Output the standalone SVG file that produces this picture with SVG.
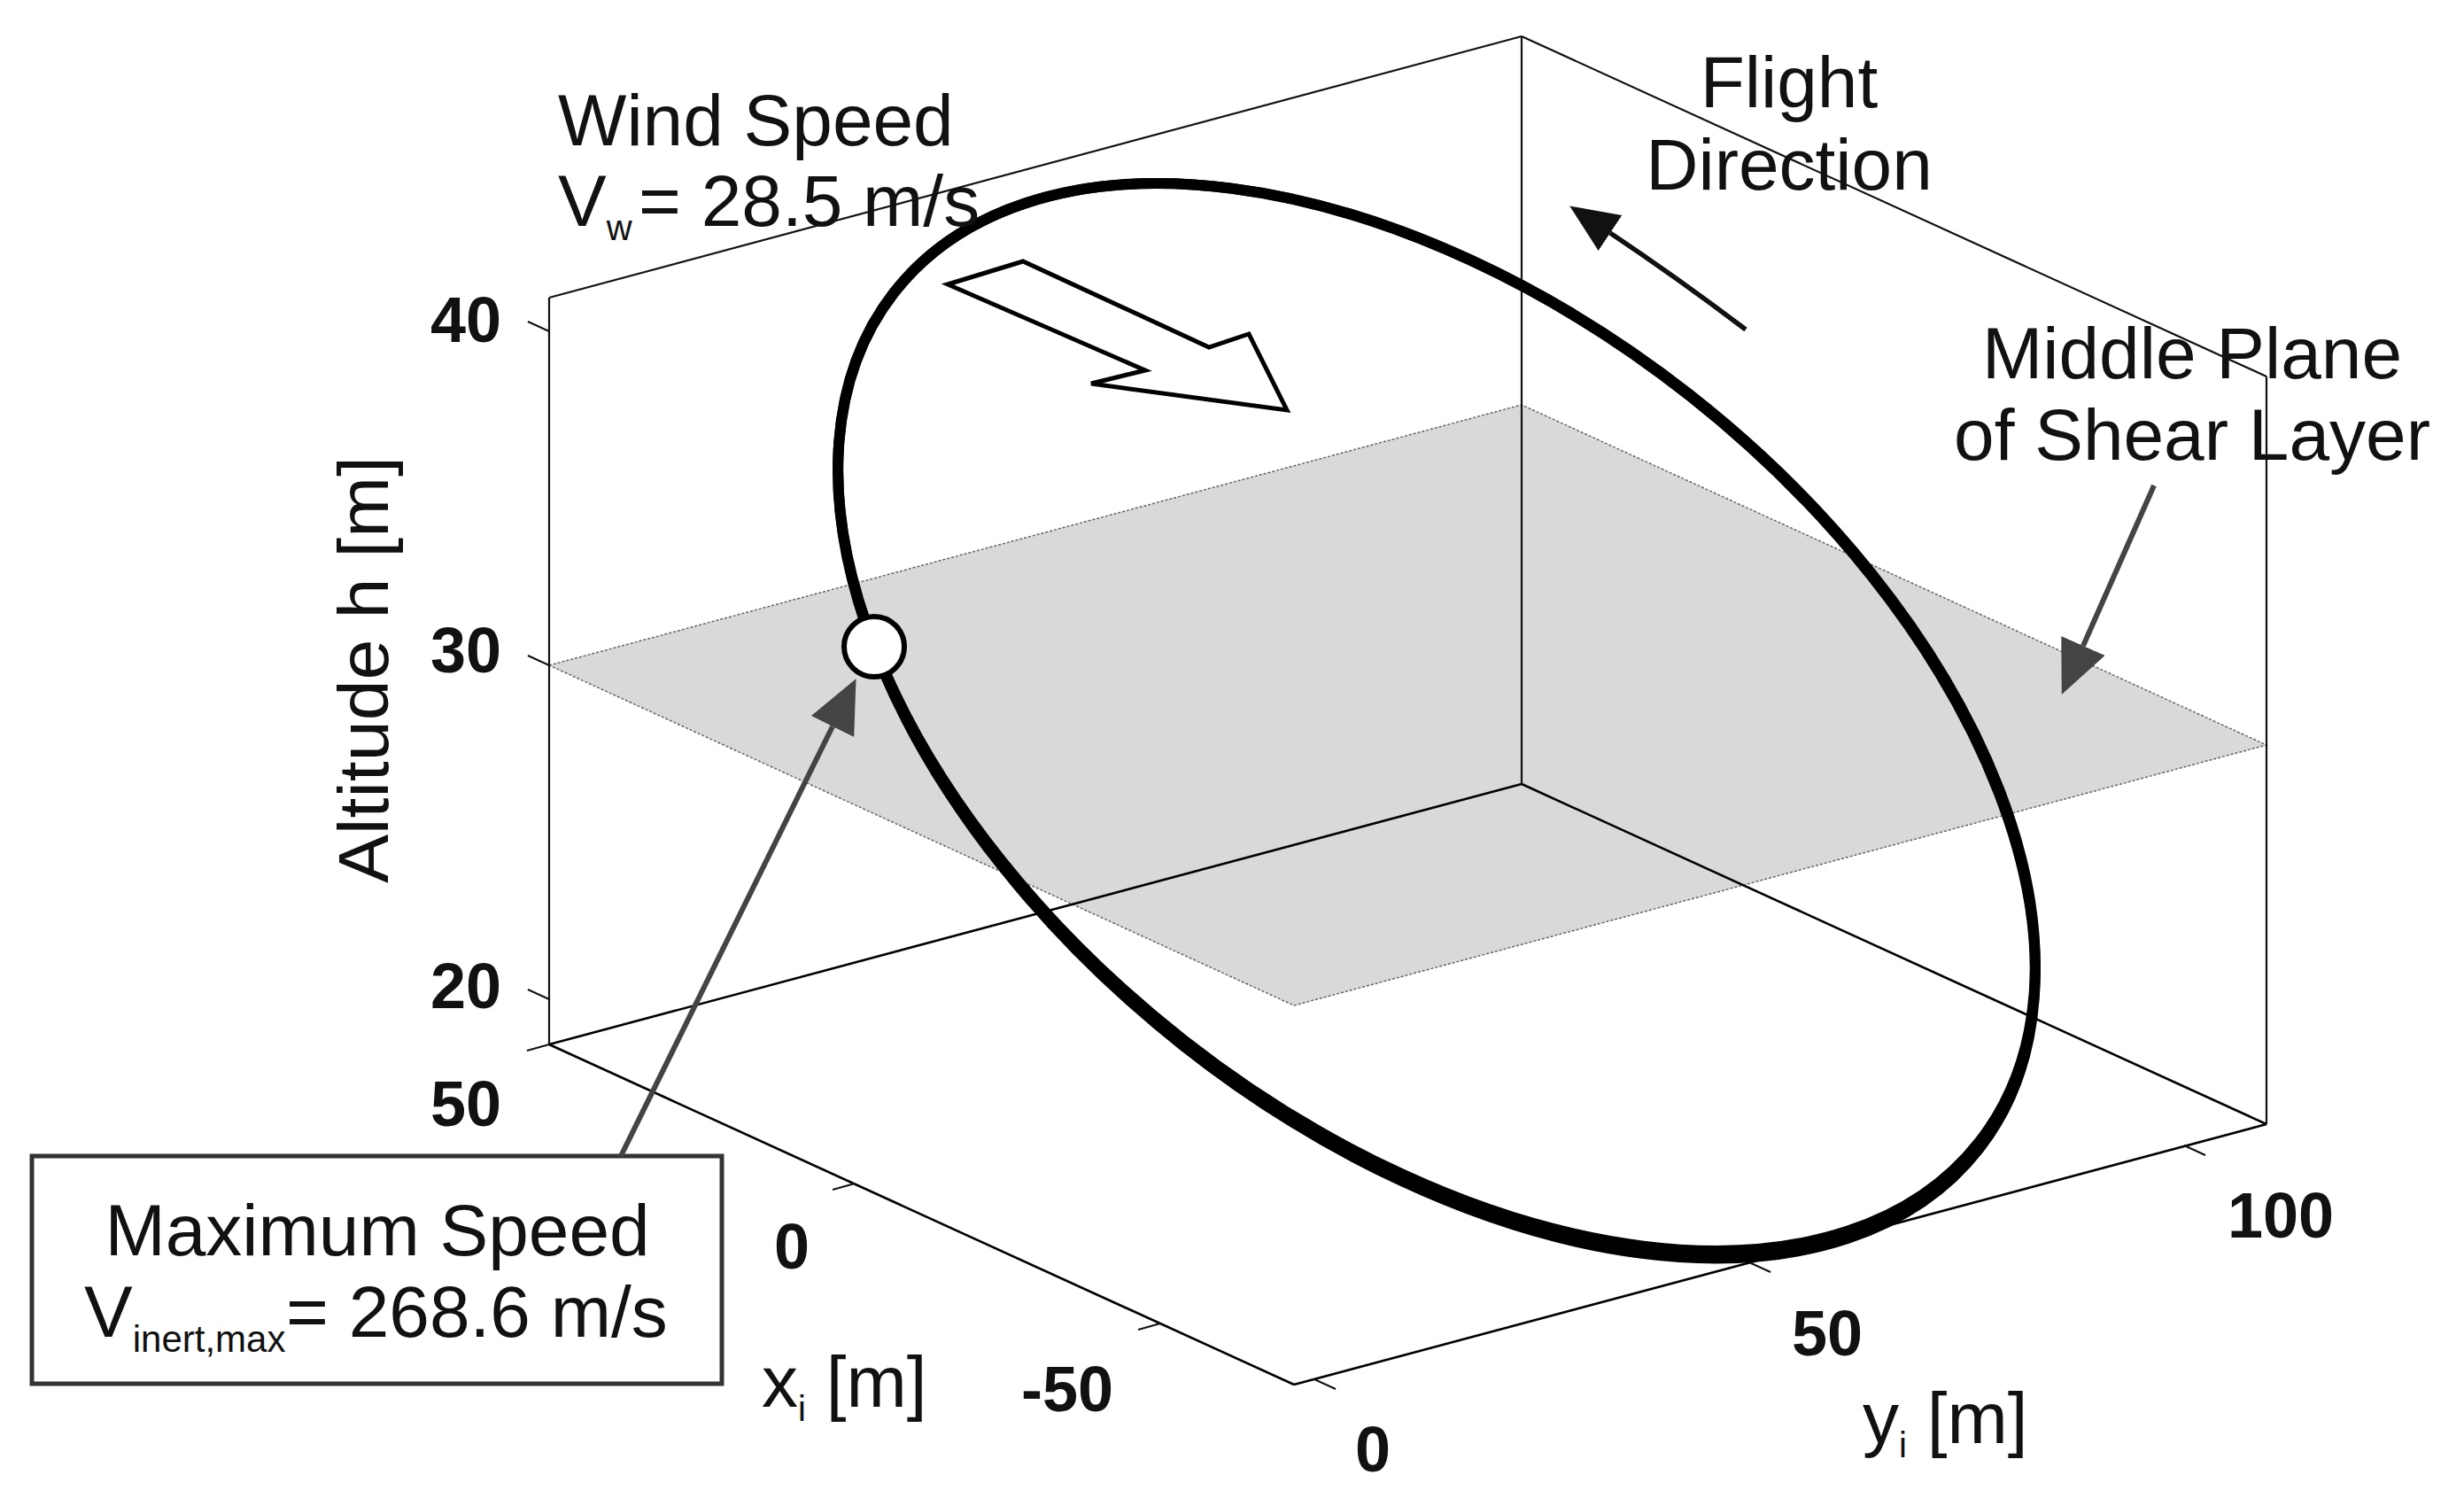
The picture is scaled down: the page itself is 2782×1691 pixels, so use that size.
<svg xmlns="http://www.w3.org/2000/svg" width="2782" height="1691" viewBox="0 0 2782 1691">
<style>
 text { font-family: "Liberation Sans", Arial, sans-serif; fill: #111; }
 .lbl { font-size: 82px; }
 .sub { font-size: 40px; }
 .num { font-size: 72px; font-weight: bold; }
 .edge { stroke: #111; stroke-width: 2.2; fill: none; }
 .edgeb { stroke: #000; stroke-width: 2.6; fill: none; }
 .tk { stroke: #111; stroke-width: 2; }
 .traj { fill: none; stroke: #000; stroke-width: 12; }
 .ptr { stroke: #444; stroke-width: 6; fill: none; }
</style>
<defs>
 <marker id="headGray" viewBox="0 0 60 54" refX="0" refY="27" markerWidth="60" markerHeight="54" markerUnits="userSpaceOnUse" orient="auto"><path d="M0,0 L60,27 L0,54 Z" fill="#444"/></marker>
 <marker id="headBlack" viewBox="0 0 55 48" refX="0" refY="24" markerWidth="55" markerHeight="48" markerUnits="userSpaceOnUse" orient="auto"><path d="M0,0 L55,24 L0,48 Z" fill="#111"/></marker>
</defs>
<rect width="2782" height="1691" fill="#fff"/>

<g id="shear-plane">
 <polygon points="620,751 1718,457 2559,841 1461,1135" fill="#d9d9d9" stroke="#666" stroke-width="1.5" stroke-dasharray="3 2"/>
</g>

<g id="axes-box">
 <line class="edge" x1="620" y1="336" x2="620" y2="1179"/>
 <line class="edge" x1="1718" y1="41" x2="1718" y2="885"/>
 <line class="edge" x1="2559" y1="425" x2="2559" y2="1269"/>
 <line class="edge" x1="620" y1="336" x2="1718" y2="41"/>
 <line class="edge" x1="1718" y1="41" x2="2559" y2="425"/>
 <line class="edgeb" x1="620" y1="1179" x2="1718" y2="885"/>
 <line class="edgeb" x1="1718" y1="885" x2="2559" y2="1269"/>
 <line class="edgeb" x1="620" y1="1179" x2="1461" y2="1563"/>
 <line class="edgeb" x1="1461" y1="1563" x2="2559" y2="1269"/>
</g>

<g id="ticks">
 <line class="tk" x1="620" y1="374" x2="596" y2="363"/>
 <line class="tk" x1="620" y1="751" x2="596" y2="740"/>
 <line class="tk" x1="620" y1="1128" x2="596" y2="1117"/>
 <line class="tk" x1="620" y1="1179" x2="595" y2="1186"/>
 <line class="tk" x1="965" y1="1336" x2="940" y2="1343"/>
 <line class="tk" x1="1310" y1="1494" x2="1285" y2="1501"/>
 <line class="tk" x1="1484" y1="1557" x2="1508" y2="1568"/>
 <line class="tk" x1="1975" y1="1425" x2="1999" y2="1436"/>
 <line class="tk" x1="2466" y1="1293" x2="2490" y2="1304"/>
</g>

<g id="tick-labels">
 <text class="num" x="566" y="386" text-anchor="end">40</text>
 <text class="num" x="566" y="759" text-anchor="end">30</text>
 <text class="num" x="566" y="1138" text-anchor="end">20</text>
 <text class="num" x="566" y="1271" text-anchor="end">50</text>
 <text class="num" x="894" y="1432" text-anchor="middle">0</text>
 <text class="num" x="1205" y="1593" text-anchor="middle">-50</text>
 <text class="num" x="1550" y="1661" text-anchor="middle">0</text>
 <text class="num" x="2063" y="1530" text-anchor="middle">50</text>
 <text class="num" x="2575" y="1397" text-anchor="middle">100</text>
</g>

<g id="axis-titles">
 <text transform="translate(438,756) rotate(-90)" font-size="80" text-anchor="middle" textLength="482" lengthAdjust="spacingAndGlyphs">Altitude h [m]</text>
 <text class="lbl" x="860" y="1588">x<tspan class="sub" dy="16">i</tspan><tspan dy="-16"> [m]</tspan></text>
 <text class="lbl" x="2103" y="1629">y<tspan class="sub" dy="16">i</tspan><tspan dy="-16"> [m]</tspan></text>
</g>

<g id="trajectory">
 <ellipse class="traj" cx="1622" cy="809.5" rx="778" ry="463" transform="rotate(38.05 1622 809.5)"/>
 <g transform="translate(0,207) scale(1,1.007) translate(0,-207)">
  <ellipse class="traj" cx="1622" cy="809.5" rx="778" ry="463" transform="rotate(38.05 1622 809.5)"/>
 </g>
</g>

<g id="max-speed-point">
 <circle cx="987" cy="730" r="34" fill="#fff" stroke="#000" stroke-width="6"/>
</g>

<g id="wind-arrow">
 <polygon points="1070,321 1155,295 1365,392 1410,377 1453,463 1232,433 1293,418" fill="#fff" stroke="#000" stroke-width="5"/>
</g>

<g id="wind-label">
 <text class="lbl" x="630" y="164">Wind Speed</text>
 <text class="lbl" x="630" y="255">V<tspan class="sub" dy="16">w</tspan><tspan x="721" dy="-16">= 28.5 m/s</tspan></text>
</g>

<g id="flight-label">
 <text class="lbl" x="2020" y="121" text-anchor="middle">Flight</text>
 <text class="lbl" x="2020" y="214" text-anchor="middle">Direction</text>
</g>

<g id="plane-label">
 <text class="lbl" x="2475" y="427" text-anchor="middle">Middle Plane</text>
 <text class="lbl" x="2475" y="519" text-anchor="middle">of Shear Layer</text>
</g>

<g id="max-speed-box">
 <rect x="36" y="1305" width="779" height="257" fill="#fff" stroke="#333" stroke-width="5"/>
 <text class="lbl" x="426" y="1417" text-anchor="middle">Maximum Speed</text>
 <text class="lbl" x="95" y="1509">V<tspan font-size="42" dy="17">inert,max</tspan><tspan x="323" dy="-17">= 268.6 m/s</tspan></text>
</g>

<g id="connectors">
 <path class="ptr" d="M701,1305 L940,820" marker-end="url(#headGray)"/>
 <path class="ptr" d="M2432,548 L2352,729" marker-end="url(#headGray)"/>
 <path d="M1971,372 Q1893,313 1818,263" stroke="#111" stroke-width="5.5" fill="none" marker-end="url(#headBlack)"/>
</g>
</svg>
